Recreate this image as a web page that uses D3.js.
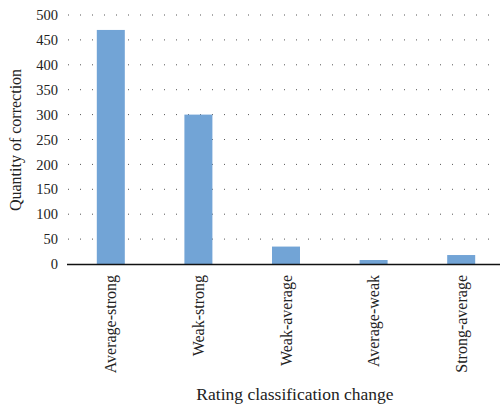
<!DOCTYPE html>
<html>
<head>
<meta charset="utf-8">
<script src="https://cdn.jsdelivr.net/npm/d3@7"></script>
<style>
  html, body { margin: 0; padding: 0; background: #fff; }
  svg { display: block; }
</style>
</head>
<body>
<svg id="chart" width="500" height="407"></svg>
<script>
// Number of corrections per rating classification change
const categories = ["Average-strong", "Weak-strong", "Weak-average", "Average-weak", "Strong-average"];
const values = [470, 300, 35, 8, 18];
const yTicks = [0, 50, 100, 150, 200, 250, 300, 350, 400, 450, 500];

const serif = "'Liberation Serif', 'Times New Roman', Times, serif";
const svg = d3.select("#chart");
const plotLeft = 67, plotRight = 505, plotTop = 15, plotBottom = 264;
const barWidth = 28;

const x = d3.scaleBand().domain(categories).range([plotLeft, plotRight]).padding(0);
const y = d3.scaleLinear().domain([0, 500]).range([plotBottom, plotTop]);

// dotted horizontal gridlines
svg.append("g")
  .selectAll("line")
  .data(yTicks.filter(d => d > 0))
  .join("line")
  .attr("x1", plotLeft + 1).attr("x2", 500)
  .attr("y1", d => y(d)).attr("y2", d => y(d))
  .attr("stroke", "#555")
  .attr("stroke-width", 1)
  .attr("stroke-dasharray", "1,11");

// bars, centred in each band
svg.append("g")
  .selectAll("rect")
  .data(categories)
  .join("rect")
  .attr("x", d => x(d) + (x.bandwidth() - barWidth) / 2)
  .attr("width", barWidth)
  .attr("y", (d, i) => y(values[i]))
  .attr("height", (d, i) => plotBottom - y(values[i]))
  .attr("fill", "#72a4d6");

// y axis labels
const yAxis = svg.append("g")
  .attr("transform", `translate(${plotLeft},0)`)
  .call(d3.axisLeft(y).tickValues(yTicks).tickSize(0).tickPadding(9));
yAxis.attr("font-family", null).attr("font-size", null);
yAxis.select(".domain").remove();
yAxis.selectAll("text")
  .style("font-family", serif)
  .style("font-size", "14.5px")
  .attr("fill", "#222");

// x axis with rotated category labels
const xAxis = svg.append("g")
  .attr("transform", `translate(0,${plotBottom})`)
  .call(d3.axisBottom(x).tickSize(0).tickPadding(0));
xAxis.attr("font-family", null).attr("font-size", null);
xAxis.select(".domain")
  .attr("d", `M${plotLeft},0.5H500`)
  .attr("stroke", "#111")
  .attr("stroke-width", 1.3);
xAxis.selectAll("text")
  .style("font-family", serif)
  .style("font-size", "16px")
  .attr("fill", "#222")
  .attr("text-anchor", "end")
  .attr("dy", null)
  .attr("transform", "rotate(-90)")
  .attr("x", -11)
  .attr("y", 0)
  .attr("dominant-baseline", "central");

// axis titles
svg.append("text")
  .attr("transform", "translate(21,140) rotate(-90)")
  .attr("text-anchor", "middle")
  .style("font-family", serif)
  .style("font-size", "16px")
  .attr("fill", "#222")
  .text("Quantity of correction");

svg.append("text")
  .attr("x", 295)
  .attr("y", 400)
  .attr("text-anchor", "middle")
  .style("font-family", serif)
  .style("font-size", "17.5px")
  .attr("fill", "#222")
  .text("Rating classification change");
</script>
</body>
</html>
